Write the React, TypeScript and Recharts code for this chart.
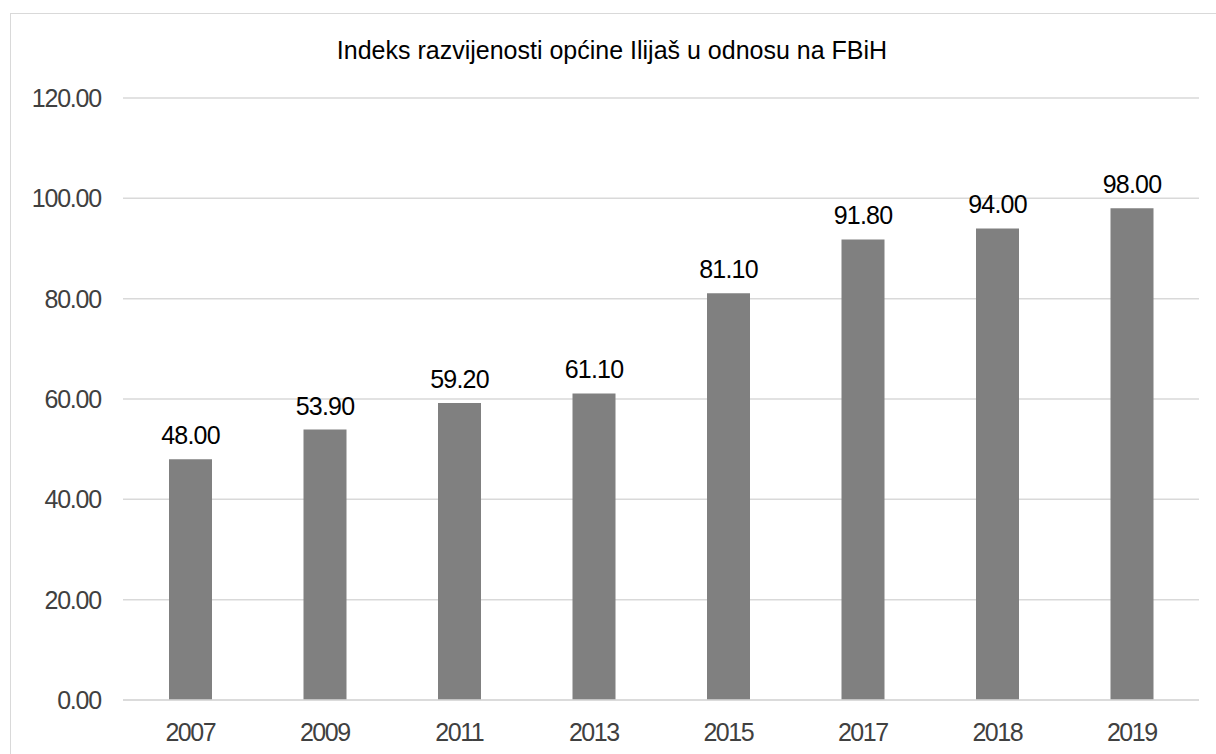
import React from 'react';
import { BarChart, Bar, XAxis, YAxis, CartesianGrid, LabelList } from 'recharts';

const years = ['2007', '2009', '2011', '2013', '2015', '2017', '2018', '2019'];
const indexValues = [48.0, 53.9, 59.2, 61.1, 81.1, 91.8, 94.0, 98.0];
const yTicks = [0, 20, 40, 60, 80, 100, 120];
const title = 'Indeks razvijenosti općine Ilijaš u odnosu na FBiH';

const data = years.map((y, i) => ({ year: y, value: indexValues[i] }));

const FONT = '"Liberation Sans", Arial, sans-serif';

export default function App() {
  return (
    <div style={{ position: 'absolute', left: 0, top: 0, width: 1216, height: 754, overflow: 'hidden', background: '#fff', fontFamily: FONT }}>
      <div style={{ position: 'absolute', left: 10, top: 13, width: 1300, height: 900, borderTop: '1px solid #d9d9d9', borderLeft: '1px solid #d9d9d9', boxSizing: 'border-box' }} />
      <div style={{ position: 'absolute', left: 4, top: 38, width: 1216, textAlign: 'center', fontSize: 25, lineHeight: '25px', color: '#000', whiteSpace: 'nowrap' }}>
        {title}
      </div>
      <div style={{ position: 'absolute', left: 0, top: 0 }}>
        <BarChart width={1216} height={754} data={data} margin={{ top: 98, right: 17, bottom: 0, left: 0 }}>
          <CartesianGrid vertical={false} stroke="#d9d9d9" strokeWidth={1.5} />
          <XAxis
            dataKey="year"
            height={54}
            tickLine={false}
            tickSize={0}
            tickMargin={23}
            axisLine={{ stroke: '#d9d9d9', strokeWidth: 1.5 }}
            tick={{ fill: '#404040', fontSize: 25, fontFamily: FONT, letterSpacing: -1.5 }}
          />
          <YAxis
            width={123}
            domain={[0, 120]}
            ticks={yTicks}
            axisLine={false}
            tickLine={false}
            tickSize={0}
            tickMargin={22}
            tickFormatter={(v: number) => v.toFixed(2)}
            tick={{ fill: '#404040', fontSize: 25, fontFamily: FONT, letterSpacing: -1.2 }}
          />
          <Bar dataKey="value" fill="#808080" barSize={43} isAnimationActive={false}>
            <LabelList
              dataKey="value"
              position="top"
              offset={15}
              formatter={(v: number) => Number(v).toFixed(2)}
              style={{ fill: '#000', fontSize: 25, fontFamily: FONT, letterSpacing: -0.8 }}
            />
          </Bar>
        </BarChart>
      </div>
    </div>
  );
}
